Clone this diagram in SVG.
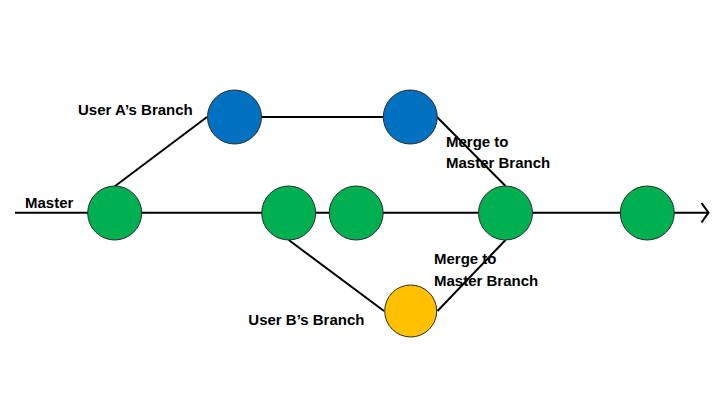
<svg xmlns="http://www.w3.org/2000/svg" width="720" height="405" viewBox="0 0 720 405">
  <style>
    .ln { stroke: #000; stroke-width: 2; fill: none; }
    .node { stroke: #2b2b2b; stroke-width: 1; }
    .g { fill: #00B050; }
    .b { fill: #0070C0; }
    .y { fill: #FFC000; }
    text { font-family: "Liberation Sans", Arial, sans-serif; font-weight: bold; font-size: 15px; fill: #000; }
  </style>
  <rect width="720" height="405" fill="#fff"/>
  <g id="connectors">
    <line class="ln" x1="15" y1="212.7" x2="708" y2="212.7"/>
    <polyline class="ln" points="701.5,203 708.5,212.7 701.5,222.5"/>
    <line class="ln" x1="114.5" y1="186.5" x2="207" y2="117"/>
    <line class="ln" x1="262" y1="117" x2="383" y2="117"/>
    <line class="ln" x1="437" y1="117" x2="505.5" y2="186"/>
    <line class="ln" x1="288.7" y1="240" x2="384" y2="311"/>
    <line class="ln" x1="437.5" y1="311" x2="505.5" y2="240"/>
  </g>
  <g id="master1"><circle class="node g" cx="114.7" cy="213" r="27"/></g>
  <g id="master2"><circle class="node g" cx="288.7" cy="213" r="27"/></g>
  <g id="master3"><circle class="node g" cx="356.2" cy="213" r="27"/></g>
  <g id="master4"><circle class="node g" cx="505.5" cy="213" r="27"/></g>
  <g id="master5"><circle class="node g" cx="647.3" cy="213" r="27"/></g>
  <g id="userA1"><circle class="node b" cx="234.5" cy="117" r="27"/></g>
  <g id="userA2"><circle class="node b" cx="410.3" cy="117" r="27"/></g>
  <g id="userB1"><circle class="node y" cx="410.7" cy="311" r="26"/></g>
  <g id="labels">
    <text x="78" y="115">User A’s Branch</text>
    <text x="25" y="207.5">Master</text>
    <text x="446" y="146.7">Merge to</text>
    <text x="446" y="168.3">Master Branch</text>
    <text x="434" y="264">Merge to</text>
    <text x="434" y="286">Master Branch</text>
    <text x="248.3" y="325">User B’s Branch</text>
  </g>
</svg>
